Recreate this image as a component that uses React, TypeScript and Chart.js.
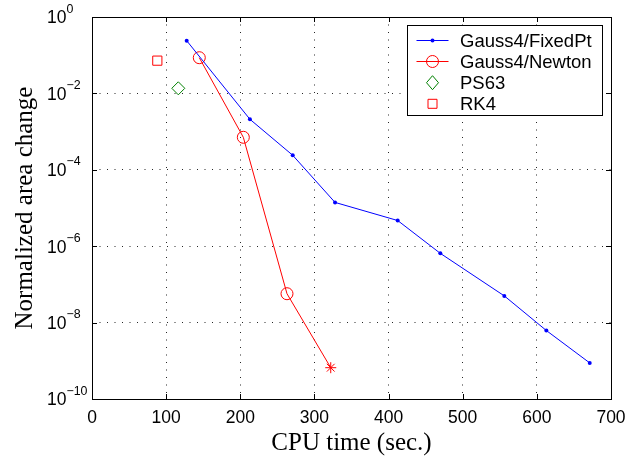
import { useEffect, useRef } from 'react';
import { Chart, registerables } from 'chart.js';

Chart.register(...registerables);

// ---- data ----
const fixedPtTime = [127.7, 213, 270.7, 327.8, 412.3, 469.8, 556.1, 612.8, 671.3];
const fixedPtErr = [0.24, 2.1e-3, 2.4e-4, 1.4e-5, 4.7e-6, 6.5e-7, 5e-8, 6.2e-9, 8.8e-10];
const newtonTime = [144.7, 204.1, 263, 322];
const newtonErr = [0.086, 7.1e-4, 5.7e-8, 6.6e-10];
const ps63Time = [116.4];
const ps63Err = [0.0136];
const rk4Time = [88.1];
const rk4Err = [0.072];

const xTickValues = [0, 100, 200, 300, 400, 500, 600, 700];
const yTickExponents = [0, -2, -4, -6, -8, -10];
const legendLabels = ['Gauss4/FixedPt', 'Gauss4/Newton', 'PS63', 'RK4'];
const xTitle = 'CPU time (sec.)';
const yTitle = 'Normalized area change';

const BLUE = 'rgb(0,0,255)';
const RED = 'rgb(255,0,0)';
const GREEN = 'rgb(0,128,0)';
const SANS = '"Liberation Sans", Arial, Helvetica, sans-serif';
const SERIF = '"Liberation Serif", "Times New Roman", serif';

const toPoints = (xs: number[], ys: number[]) => xs.map((x, i) => ({ x, y: ys[i] }));

function drawMarker(ctx: CanvasRenderingContext2D, style: string, x: number, y: number, color: string) {
  ctx.save();
  ctx.strokeStyle = color;
  ctx.fillStyle = color;
  ctx.lineWidth = 1;
  ctx.beginPath();
  if (style === 'dot') {
    ctx.arc(x, y, 2, 0, Math.PI * 2);
    ctx.fill();
  } else if (style === 'circle') {
    ctx.arc(x, y, 6, 0, Math.PI * 2);
    ctx.stroke();
  } else if (style === 'diamond') {
    ctx.moveTo(x, y - 7);
    ctx.lineTo(x + 6, y);
    ctx.lineTo(x, y + 7);
    ctx.lineTo(x - 6, y);
    ctx.closePath();
    ctx.stroke();
  } else if (style === 'square') {
    ctx.rect(x - 4.5, y - 4.5, 9, 9);
    ctx.stroke();
  }
  ctx.restore();
}

const decorPlugin = {
  id: 'matlabDecor',
  afterDraw(chart: any) {
    const ctx: CanvasRenderingContext2D = chart.ctx;
    const { left, right, top, bottom } = chart.chartArea;
    const xs = chart.scales.x;
    const ys = chart.scales.y;
    ctx.save();
    // frame
    ctx.strokeStyle = '#000';
    ctx.lineWidth = 1;
    ctx.strokeRect(Math.round(left) + 0.5, Math.round(top) + 0.5, Math.round(right - left), Math.round(bottom - top));
    // inward ticks
    ctx.beginPath();
    const tl = 5;
    xTickValues.forEach((v) => {
      const px = Math.round(xs.getPixelForValue(v)) + 0.5;
      ctx.moveTo(px, bottom);
      ctx.lineTo(px, bottom - tl);
      ctx.moveTo(px, top);
      ctx.lineTo(px, top + tl);
    });
    yTickExponents.forEach((e) => {
      const py = Math.round(ys.getPixelForValue(Math.pow(10, e))) + 0.5;
      ctx.moveTo(left, py);
      ctx.lineTo(left + tl, py);
      ctx.moveTo(right, py);
      ctx.lineTo(right - tl, py);
    });
    ctx.stroke();

    // y tick labels: 10 with superscript exponent
    ctx.fillStyle = '#000';
    ctx.textAlign = 'left';
    ctx.textBaseline = 'alphabetic';
    yTickExponents.forEach((e) => {
      const py = ys.getPixelForValue(Math.pow(10, e));
      ctx.font = `17.5px ${SANS}`;
      const baseX = 47;
      ctx.fillText('10', baseX, py + 6.3);
      const w = ctx.measureText('10').width;
      ctx.font = `12.4px ${SANS}`;
      const expText = e < 0 ? '\u2212' + String(-e) : String(e);
      ctx.fillText(expText, baseX + w, py - 4.5);
    });

    // axis titles
    ctx.font = `25px ${SERIF}`;
    ctx.textAlign = 'center';
    ctx.fillText(xTitle, (left + right) / 2, 450);
    ctx.save();
    ctx.translate(31.5, (top + bottom) / 2);
    ctx.rotate(-Math.PI / 2);
    ctx.fillText(yTitle, 0, 0);
    ctx.restore();

    // legend
    const bx = 407.5, by = 25.5, bw = 195, bh = 90;
    ctx.fillStyle = '#fff';
    ctx.fillRect(bx, by, bw, bh);
    ctx.strokeStyle = '#000';
    ctx.lineWidth = 1;
    ctx.strokeRect(bx, by, bw, bh);
    const rows = [40.5, 61.5, 82.7, 103.8];
    const colors = [BLUE, RED, GREEN, RED];
    const markers = ['dot', 'circle', 'diamond', 'square'];
    const hasLine = [true, true, false, false];
    legendLabels.forEach((lab, i) => {
      const ry = rows[i];
      if (hasLine[i]) {
        ctx.strokeStyle = colors[i];
        ctx.beginPath();
        ctx.moveTo(416.5, ry);
        ctx.lineTo(448.5, ry);
        ctx.stroke();
      }
      drawMarker(ctx, markers[i], 432.5, ry, colors[i]);
      ctx.fillStyle = '#000';
      ctx.font = `18.5px ${SANS}`;
      ctx.textAlign = 'left';
      ctx.textBaseline = 'alphabetic';
      ctx.fillText(lab, 460, ry + 6.6);
    });
    ctx.restore();
  },
};

export default function App() {
  const ref = useRef<HTMLCanvasElement | null>(null);
  useEffect(() => {
    if (!ref.current) return;
    const chart = new Chart(ref.current, {
      type: 'line',
      data: {
        datasets: [
          {
            label: legendLabels[0],
            data: toPoints(fixedPtTime, fixedPtErr),
            borderColor: BLUE,
            backgroundColor: BLUE,
            borderWidth: 1,
            pointStyle: 'circle',
            pointRadius: 2,
            pointBorderWidth: 0,
            pointBackgroundColor: BLUE,
            tension: 0,
          },
          {
            label: legendLabels[1],
            data: toPoints(newtonTime, newtonErr),
            borderColor: RED,
            borderWidth: 1,
            pointStyle: ['circle', 'circle', 'circle', 'star'] as any,
            pointRadius: [6, 6, 6, 5.5] as any,
            pointBorderWidth: 1,
            pointBorderColor: RED,
            pointBackgroundColor: 'rgba(0,0,0,0)',
            tension: 0,
          },
          {
            label: legendLabels[2],
            data: toPoints(ps63Time, ps63Err),
            showLine: false,
            borderColor: GREEN,
            pointStyle: 'rectRot',
            pointRadius: 6.5,
            pointBorderWidth: 1,
            pointBorderColor: GREEN,
            pointBackgroundColor: 'rgba(0,0,0,0)',
          },
          {
            label: legendLabels[3],
            data: toPoints(rk4Time, rk4Err),
            showLine: false,
            borderColor: RED,
            pointStyle: 'rect',
            pointRadius: 6.5,
            pointBorderWidth: 1,
            pointBorderColor: RED,
            pointBackgroundColor: 'rgba(0,0,0,0)',
          },
        ],
      },
      options: {
        responsive: false,
        animation: false,
        devicePixelRatio: 1,
        layout: { padding: { top: 17, right: 39, left: 0, bottom: 0 } },
        plugins: { legend: { display: false }, tooltip: { enabled: false } },
        scales: {
          x: {
            type: 'linear',
            min: 0,
            max: 700,
            afterBuildTicks: (s: any) => {
              s.ticks = xTickValues.map((v) => ({ value: v }));
            },
            afterFit: (s: any) => {
              s.height = 59;
            },
            grid: { color: 'rgba(0,0,0,0.85)', lineWidth: 1, drawTicks: false },
            border: { display: false, dash: [1, 6.5] },
            ticks: {
              color: '#000',
              font: { family: SANS, size: 17.5 },
              padding: 9,
              maxRotation: 0,
              autoSkip: false,
            },
          },
          y: {
            type: 'logarithmic',
            min: 1e-10,
            max: 1,
            afterBuildTicks: (s: any) => {
              s.ticks = yTickExponents.map((e) => ({ value: Math.pow(10, e) }));
            },
            afterFit: (s: any) => {
              s.width = 92;
            },
            grid: { color: 'rgba(0,0,0,0.85)', lineWidth: 1, drawTicks: false },
            border: { display: false, dash: [1, 6.5] },
            ticks: { display: false },
          },
        },
      },
      plugins: [decorPlugin],
    });
    return () => chart.destroy();
  }, []);
  return (
    <div
      style={{
        position: 'absolute',
        left: 0,
        top: 0,
        width: 625,
        height: 458,
        overflow: 'hidden',
        background: '#fff',
      }}
    >
      <canvas ref={ref} width={650} height={458} style={{ display: 'block' }} />
    </div>
  );
}
